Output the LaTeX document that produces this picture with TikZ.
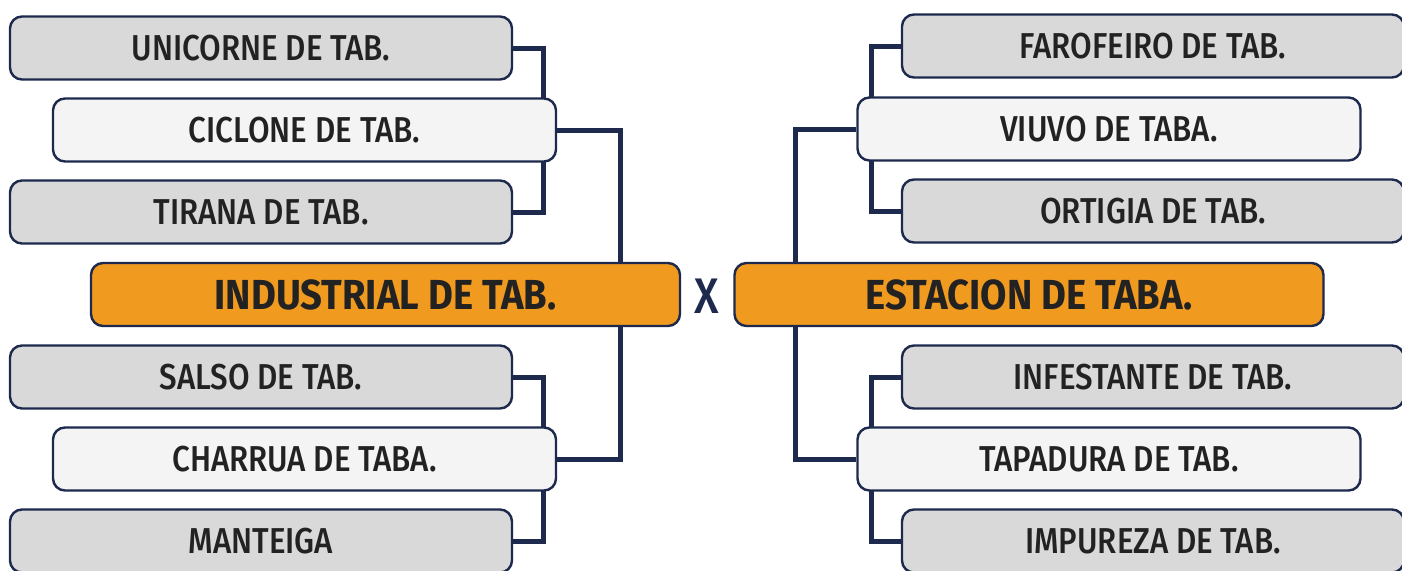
\documentclass[tikz,border=0pt]{standalone}
\usepackage{fontspec}
\usetikzlibrary{backgrounds}
\newfontfamily\boxfont{Fira Sans}[FakeStretch=0.87, UprightFont=* Medium]
\newfontfamily\titlefont{Fira Sans}[FakeStretch=0.91, UprightFont=* Bold]
\definecolor{navy}{HTML}{1D2A4D}
\definecolor{boxgray}{HTML}{D9D9D9}
\definecolor{boxlight}{HTML}{F4F4F4}
\definecolor{orng}{HTML}{F09A20}
\definecolor{txt}{HTML}{222222}
\tikzset{
  basebox/.style={draw=navy, line width=2.4pt, rounded corners=12pt, text=txt, inner sep=0pt},
  graybox/.style={basebox, fill=boxgray, minimum width=502pt, minimum height=63pt, font=\boxfont\fontsize{36}{36}\selectfont},
  lightbox/.style={basebox, fill=boxlight, minimum width=503pt, minimum height=63pt, font=\boxfont\fontsize{36}{36}\selectfont},
  titlebox/.style={basebox, fill=orng, minimum width=589pt, minimum height=63pt, font=\titlefont\fontsize{42}{42}\selectfont},
  vslabel/.style={text=navy, inner sep=0pt, font=\boxfont\fontsize{50}{50}\selectfont},
  link/.style={draw=navy, line width=5pt},
}
\begin{document}
\begin{tikzpicture}[x=1pt,y=-1pt]
\useasboundingbox (0,0) rectangle (1402,570);
\clip (0,0) rectangle (1402,570);
% elbow x positions
\coordinate (la) at (543,0);
\coordinate (lb) at (620,0);
\coordinate (ra) at (871,0);
\coordinate (rb) at (795,0);
\path
  node[graybox]  (u) at (261,48)  {UNICORNE DE TAB.}
  node[lightbox] (c) at (304.5,130) {CICLONE DE TAB.}
  node[graybox]  (t) at (261,212) {TIRANA DE TAB.}
  node[titlebox] (ind) at (385.5,294.5) {INDUSTRIAL DE TAB.}
  node[graybox]  (s) at (261,377) {SALSO DE TAB.}
  node[lightbox] (ch) at (304.5,459) {CHARRUA DE TABA.}
  node[graybox]  (m) at (261,541) {MANTEIGA}
  node[graybox]  (f) at (1153,46) {FAROFEIRO DE TAB.}
  node[lightbox] (v) at (1109,129) {VIUVO DE TABA.}
  node[graybox]  (o) at (1153,211) {ORTIGIA DE TAB.}
  node[titlebox] (est) at (1029,294.5) {ESTACION DE TABA.}
  node[graybox]  (inf) at (1153,377) {INFESTANTE DE TAB.}
  node[lightbox] (tp) at (1109,459) {TAPADURA DE TAB.}
  node[graybox]  (imp) at (1153,541) {IMPUREZA DE TAB.};
\node[vslabel] (vs) at (707,296) {X};
\begin{scope}[on background layer]
  \fill[white] (0,0) rectangle (1402,570);
  \draw[link] (u.east) -| (la |- t.east) -- (t.east);
  \draw[link] (s.east) -| (la |- m.east) -- (m.east);
  \draw[link] (c.east) -| (lb |- ch.east) -- (ch.east);
  \draw[link] (f.west) -| (ra |- o.west) -- (o.west);
  \draw[link] (inf.west) -| (ra |- imp.west) -- (imp.west);
  \draw[link] (v.west) -| (rb |- tp.west) -- (tp.west);
\end{scope}
\end{tikzpicture}
\end{document}
